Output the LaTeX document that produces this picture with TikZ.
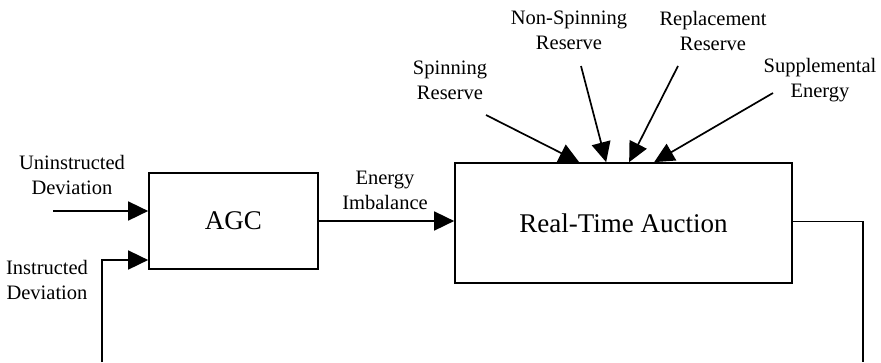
\documentclass[tikz,border=0pt]{standalone}
\usepackage{fontspec}
\setmainfont{Liberation Serif}
\usetikzlibrary{arrows.meta,calc}
\begin{document}
\begin{tikzpicture}[x=1pt,y=-1pt,
  line width=1.7pt,
  box/.style={draw,line width=1.7pt,inner sep=0pt,font=\fontsize{27}{30}\selectfont},
  lbl/.style={align=center,inner sep=0pt,font=\fontsize{20.5}{25}\selectfont},
  arr/.style={-{Triangle[length=20pt,width=19pt]}},
]
\useasboundingbox (0,0) rectangle (881,362);
% blocks
\node[box,minimum width=169pt,minimum height=96pt] (agc) at (233.5,221) {AGC};
\node[box,minimum width=337pt,minimum height=120pt] (rta) at (623.5,223) {Real-Time Auction};
% labels
\node[lbl] (unin) at (72,174.5) {Uninstructed\\Deviation};
\node[lbl] (inst) at (47,279.5) {Instructed\\Deviation};
\node[lbl] (eimb) at (385,190.5) {Energy\\Imbalance};
\node[lbl] (spin) at (450,80.5) {Spinning\\Reserve};
\node[lbl] (nspin) at (569,30.5) {Non-Spinning\\Reserve};
\node[lbl] (repl) at (713,30.5) {Replacement\\Reserve};
\node[lbl] (supp) at (820,80.5) {Supplemental\\Energy};
% free ends
\coordinate (uninS) at (53,211);
\coordinate (spinS) at (486,115);
\coordinate (nspinS) at (581,66);
\coordinate (replS) at (678,66);
\coordinate (suppS) at (773,93);
\coordinate (fbR) at (863,362);
\coordinate (fbL) at (102,362);
% connectors
\draw[arr] (uninS) -- (uninS -| agc.west);
\draw[arr] (agc.east) -- (agc.east -| rta.west);
\draw[arr] (spinS) -- ([xshift=125pt]rta.north west);
\draw[arr] (nspinS) -- ([xshift=152pt]rta.north west);
\draw[arr] (replS) -- ([xshift=175pt]rta.north west);
\draw[arr] (suppS) -- ([xshift=200pt]rta.north west);
\draw ([yshift=1.5pt]rta.east) -| (fbR);
\draw[arr] (fbL) |- ([yshift=-39pt]agc.west);
\end{tikzpicture}
\end{document}
